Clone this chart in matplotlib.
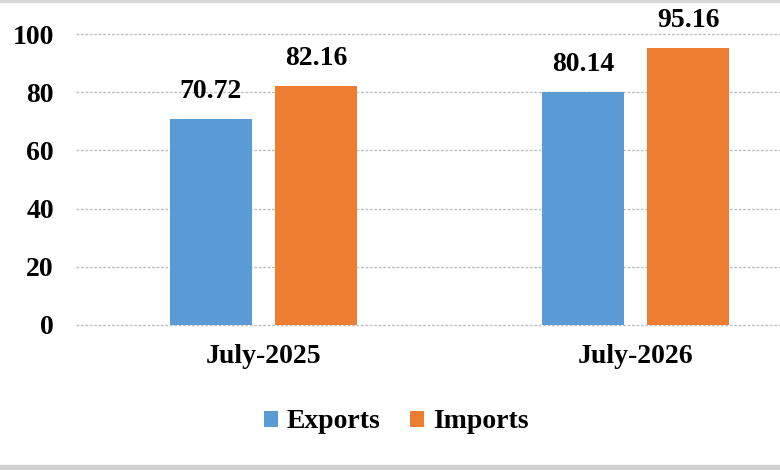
import matplotlib.pyplot as plt
import numpy as np
from matplotlib.patches import Rectangle

months = ["July-2025", "July-2026"]
exports = [70.72, 80.14]
imports = [82.16, 95.16]
y_ticks = [0, 20, 40, 60, 80, 100]

plt.rcParams['font.family'] = ['Liberation Serif', 'DejaVu Serif']
plt.rcParams['font.weight'] = 'bold'

fig = plt.figure(figsize=(7.8, 4.7), dpi=100)
ax = fig.add_axes([76 / 780, 145 / 470, 1 - 76 / 780, 291 / 470])

x = np.arange(len(months))
w = 0.22
off = 0.141
b1 = ax.bar(x - off, exports, w, color="#5b9bd5", label="Exports", zorder=3)
b2 = ax.bar(x + off, imports, w, color="#ed7d31", label="Imports", zorder=3)

for bars in (b1, b2):
    for r in bars:
        ax.annotate(f"{r.get_height():.2f}", (r.get_x() + r.get_width() / 2, r.get_height()),
                    xytext=(0, 11), textcoords="offset points", ha="center", va="bottom",
                    fontsize=20, fontweight="bold", annotation_clip=False)

ax.set_xlim(-0.503, 1.387)
ax.set_ylim(0, 100)
ax.set_yticks(y_ticks)
ax.set_xticks(x)
ax.set_xticklabels(months)
ax.tick_params(axis="y", length=0, pad=16, labelsize=20)
ax.tick_params(axis="x", length=0, pad=14, labelsize=20)
for lab in ax.get_xticklabels() + ax.get_yticklabels():
    lab.set_fontweight("bold")

ax.grid(axis="y", color="#bfbfbf", linestyle=(0, (2, 1.2)), linewidth=1, zorder=0)
for gl in ax.get_ygridlines():
    gl.set_clip_on(False)
for s in ax.spines.values():
    s.set_visible(False)
ax.set_axisbelow(True)

fig.legend(handles=[b1, b2], loc="center", bbox_to_anchor=(396 / 780, 1 - 422 / 470),
           ncol=2, frameon=False, handlelength=0.5, handleheight=0.5,
           handletextpad=0.3, columnspacing=1.1, prop={'weight': 'bold', 'size': 20})

# light gray border strips at top and bottom
fig.patches.append(Rectangle((0, 1 - 2 / 470), 1, 2 / 470, transform=fig.transFigure,
                             color="#d9d9d9", zorder=0))
fig.patches.append(Rectangle((0, 0), 1, 5 / 470, transform=fig.transFigure,
                             color="#d0d0d0", zorder=0))

fig.savefig("out.png", dpi=100)
